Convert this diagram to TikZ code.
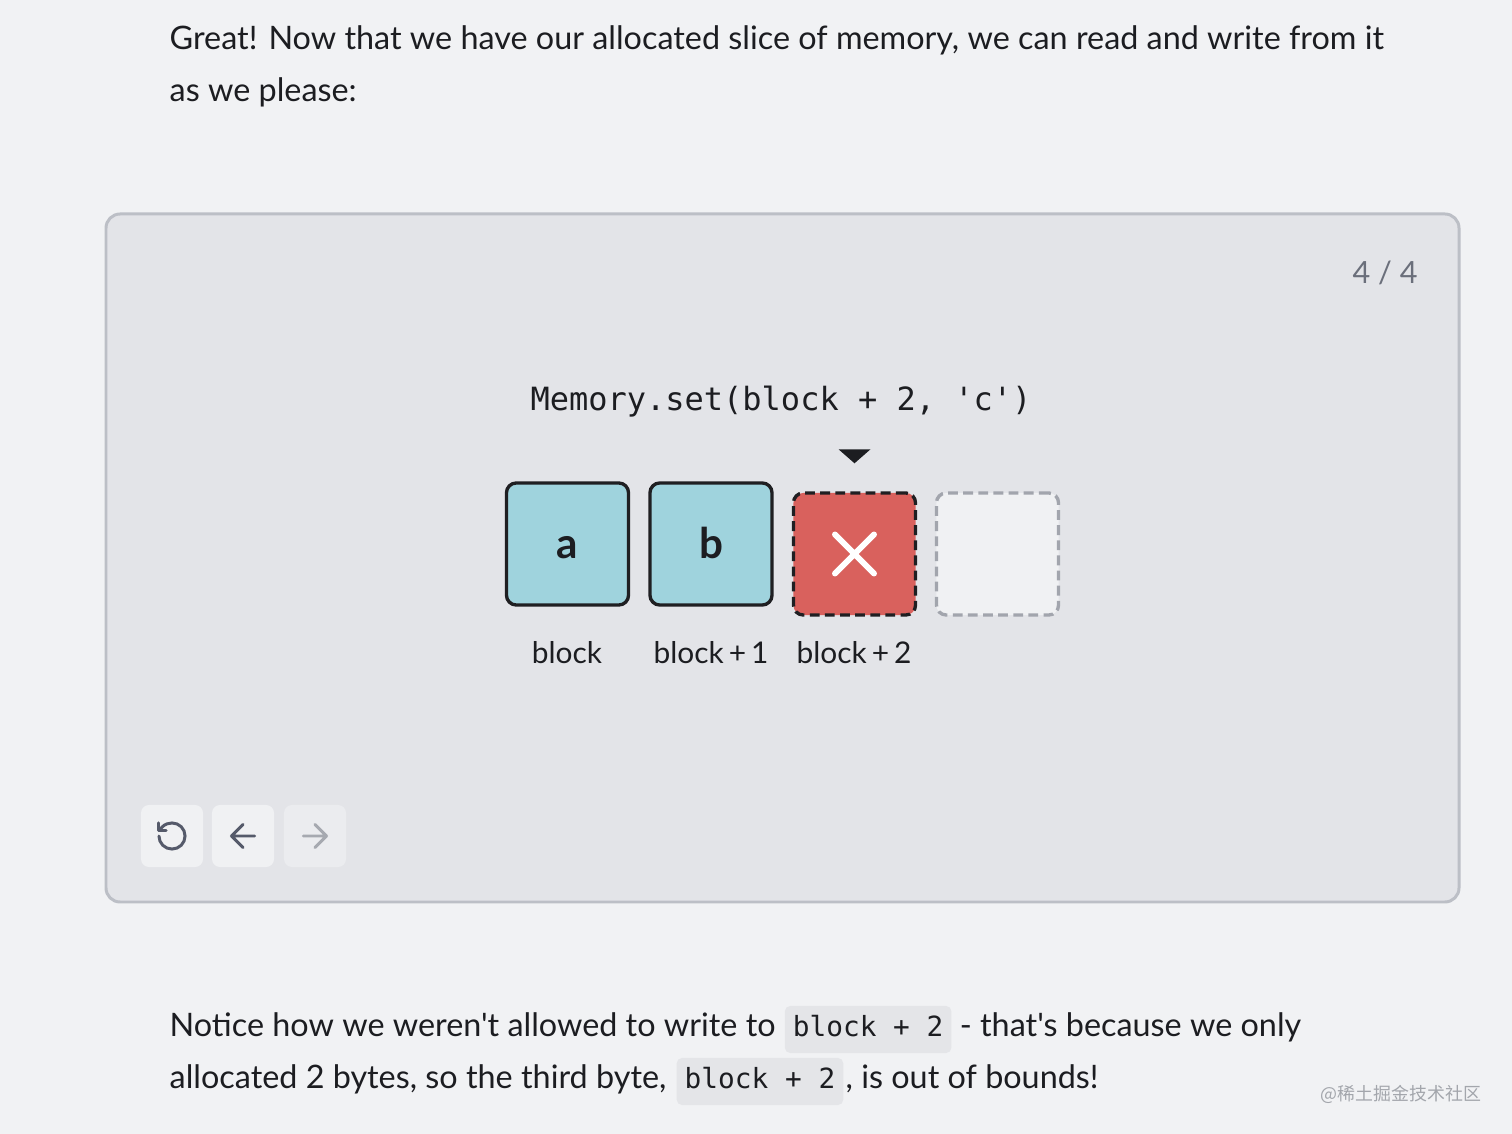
\documentclass[tikz,border=0pt]{standalone}
\usepackage{fontspec}
\setmainfont{Lato}
\newfontfamily\bodyfont{Lato}
\setmonofont{DejaVu Sans Mono}
\newfontfamily\cjk{Noto Sans CJK SC}
\usetikzlibrary{positioning}

\definecolor{pagebg}{HTML}{F1F2F4}
\definecolor{panelfill}{HTML}{E3E4E8}
\definecolor{panelline}{HTML}{BCBFC6}
\definecolor{ink}{HTML}{1C1D21}
\definecolor{softink}{HTML}{6B6F7B}
\definecolor{cellfill}{HTML}{9FD3DD}
\definecolor{cellline}{HTML}{1F1F22}
\definecolor{badfill}{HTML}{D9615D}
\definecolor{freefill}{HTML}{F0F1F3}
\definecolor{freeline}{HTML}{A2A5AD}
\definecolor{chipfill}{HTML}{E4E5E8}
\definecolor{iconink}{HTML}{555A6A}
\definecolor{iconfaint}{HTML}{A6A9B0}
\definecolor{markgray}{HTML}{A3A6AC}

\begin{document}
\begin{tikzpicture}[
        x=0.01cm, y=-0.01cm,
        body/.style={
            font=\bodyfont\fontsize{9.2}{11}\selectfont,
            text=ink,
            inner sep=0pt,
            anchor=base west
        },
        chip/.style={
            font=\ttfamily\fontsize{7.9}{10}\selectfont,
            text=ink,
            fill=chipfill,
            rounded corners=1.5pt,
            inner xsep=0.08cm,
            inner ysep=0pt,
            text height=0.3cm,
            text depth=0.17cm,
            anchor=base west
        },
        cell/.style={
            draw=cellline,
            line width=0.95pt,
            rounded corners=2.8pt,
            minimum size=1.22cm,
            inner sep=0pt,
            text height=0.28cm,
            text depth=0pt,
            font=\bfseries\fontsize{12}{13}\selectfont,
            text=ink
        },
        addr/.style={
            font=\fontsize{8.5}{10}\selectfont,
            text=ink,
            inner sep=0pt,
            anchor=base
        },
        btn/.style={
            fill=freefill,
            rounded corners=2.3pt,
            minimum size=0.62cm,
            inner sep=0pt
        },
        glyph/.style={
            line width=0.85pt,
            line cap=round,
            line join=round
        }
    ]
    \fill[pagebg] (0,0) rectangle (1512,1134);
    \useasboundingbox (0,0) rectangle (1512,1134);

    % text above
    \node[body] (intro1) at (169,50) {Great! Now that we have our allocated slice of memory, we can read and write from it};
    \node[body] (intro2) at (169,102) {as we please:};

    % the panel
    \draw[panelline, fill=panelfill, line width=0.85pt, rounded corners=4pt] (106,214) rectangle (1459,902);
    \node[font=\fontsize{8.7}{10}\selectfont, text=softink, inner sep=0pt, anchor=base] (step) at (1385,284) {4 / 4};
    \node[font=\ttfamily\fontsize{9.1}{11}\selectfont, text=ink, inner sep=0pt, anchor=base] (call) at (781,411) {Memory.set(block + 2, 'c')};

    % memory cells
    \node[cell, fill=cellfill] (ca) at (567.5,544) {a};
    \node[cell, fill=cellfill] (cb) at (711,544) {b};
    \node[cell, fill=badfill, dash pattern=on 2.8pt off 1.5pt] (cc) at (854.5,554) {};
    \node[cell, fill=freefill, draw=freeline, dash pattern=on 2.8pt off 1.5pt] (cd) at (997.5,554) {};
    \draw[white, line width=1.7pt, line cap=round]
        ([shift={(-19.5,-19.5)}]cc.center) -- ([shift={(19.5,19.5)}]cc.center)
        ([shift={(-19.5,19.5)}]cc.center) -- ([shift={(19.5,-19.5)}]cc.center);
    \fill[ink] ([shift={(-16,-42)}]cc.north) -- ([shift={(16,-42)}]cc.north) -- ([shift={(0,-28)}]cc.north) -- cycle;

    \node[addr] (la) at (567,664) {block};
    \node[addr] (lb) at (711,664) {block\,+\,1};
    \node[addr] (lc) at (854,664) {block\,+\,2};

    % buttons
    \node[btn] (undo) at (172,836) {};
    \node[btn] (back) at (243,836) {};
    \node[btn, fill=freefill!60!panelfill] (fwd) at (315,836) {};
    \begin{scope}[shift={(undo.center)}, scale=1.45]
        \draw[glyph, iconink] (-9,0) arc[start angle=180, end angle=-90, radius=9]
            .. controls (-2.5,-9) and (-4.9,-8.1) .. (-6.74,-6.26) -- (-9,-4);
        \draw[glyph, iconink] (-9,-9) -- (-9,-4) -- (-4,-4);
    \end{scope}
    \begin{scope}[shift={(back.center)}, scale=1.65]
        \draw[glyph, iconink] (0,7) -- (-7,0) -- (0,-7) (7,0) -- (-7,0);
    \end{scope}
    \begin{scope}[shift={(fwd.center)}, scale=1.65]
        \draw[glyph, iconfaint] (-7,0) -- (7,0) (0,-7) -- (7,0) -- (0,7);
    \end{scope}

    % text below
    \node[body] (note1) at (169,1036) {Notice how we weren't allowed to write to};
    \node[chip] (chip1) at ([shift={(8,0)}]note1.base east) {block + 2};
    \node[body] (note2) at ([shift={(7,0)}]chip1.base east) {- that's because we only};
    \node[body] (note3) at (169,1088) {allocated 2 bytes, so the third byte,};
    \node[chip] (chip2) at ([shift={(9,0)}]note3.base east) {block + 2};
    \node[body] (note4) at ([shift={(1,0)}]chip2.base east) {, is out of bounds!};

    \node[font=\cjk\fontsize{5.1}{6}\selectfont, text=markgray, inner sep=0pt, anchor=base east] (mark) at (1482,1100) {@稀土掘金技术社区};
\end{tikzpicture}
\end{document}
